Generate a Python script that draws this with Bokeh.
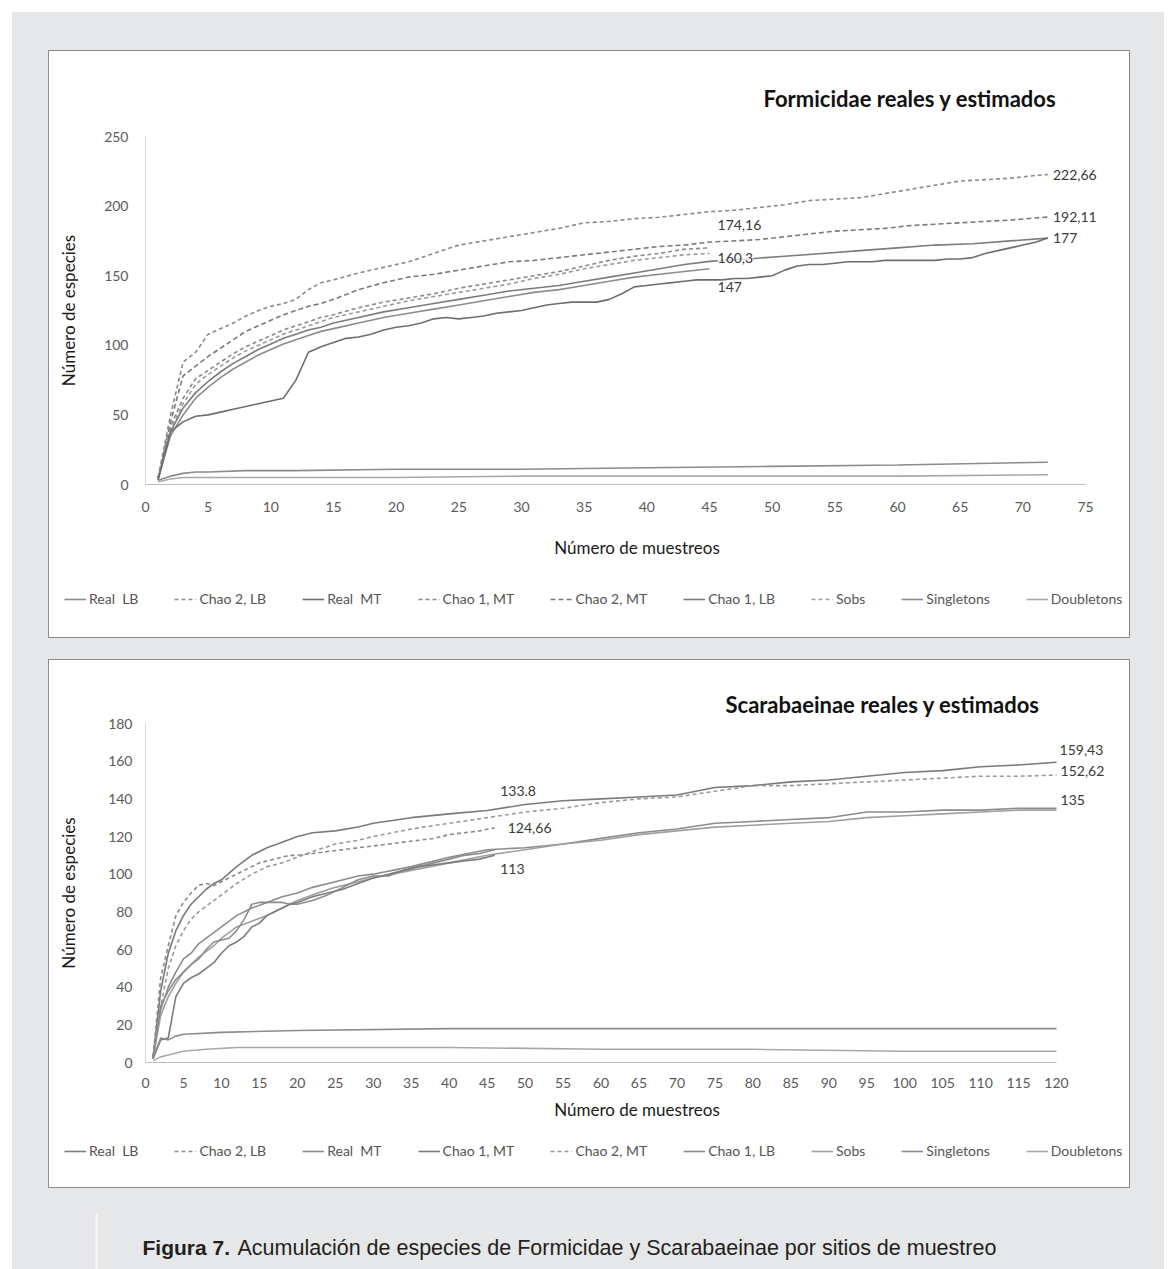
from bokeh.plotting import figure
from bokeh.models import Range1d, FixedTicker, Legend, LegendItem, Label, Spacer, BoxAnnotation
from bokeh.layouts import column, row
from bokeh.embed import file_html
from bokeh.resources import INLINE

# ---------------- data: Formicidae ----------------
f_x_mt = [1, 2, 3, 4, 5, 6, 7, 8, 9, 10, 11, 12, 13, 14, 15,
          17, 19, 21, 23, 25, 27, 29, 31, 33, 35, 37, 39, 41, 43, 45,
          47, 49, 51, 53, 55, 57, 59, 61, 63, 65, 67, 69, 71, 72]
f_chao1_mt = [5, 50, 88, 95, 108, 112, 116, 121, 125, 128, 130, 133, 140, 145, 147,
              152, 156, 160, 166, 172, 175, 178, 181, 184, 188, 189, 191, 192, 194, 196,
              197, 199, 201, 204, 205, 206, 209, 212, 215, 218, 219, 220, 222, 222.66]
f_chao2_mt = [4, 45, 78, 85, 92, 98, 104, 110, 114, 118, 122, 125, 128, 130, 133,
              140, 145, 149, 151, 154, 157, 160, 161, 163, 165, 167, 169, 171, 172, 174.16,
              175, 176, 178, 180, 182, 183, 184, 186, 187, 188, 189, 190, 191.5, 192.11]

f_x_lb = [1, 2, 3, 4, 5, 6, 7, 8, 9, 10, 11, 12, 13, 14, 15,
          17, 19, 21, 23, 25, 27, 29, 31, 33, 35, 37, 39, 41, 43, 45]
f_chao2_lb = [4, 42, 62, 76, 82, 88, 94, 99, 103, 107, 111, 114, 117, 120, 122,
              127, 131, 134, 137, 141, 144, 147, 150, 153, 157, 161, 164, 166, 169, 170]
f_sobs = [4, 40, 58, 72, 79, 85, 91, 96, 100, 104, 108, 111, 114, 117, 120,
          124, 128, 132, 135, 138, 141, 144, 148, 151, 155, 158, 161, 163, 165, 166]
f_real_lb = [4, 35, 50, 62, 70, 77, 83, 88, 93, 97, 101, 104, 107, 110, 112,
             116, 120, 123, 126, 129, 132, 135, 138, 140, 143, 146, 149, 151, 153, 155]

f_x_c1lb = [1, 2, 3, 4, 5, 6, 7, 8, 9, 10, 11, 12, 13, 14, 15,
            17, 19, 21, 23, 25, 27, 29, 31, 33, 35, 37, 39, 41, 43, 45,
            48, 51, 54, 57, 60, 63, 66, 69, 72]
f_chao1_lb = [4, 38, 55, 66, 74, 81, 87, 92, 97, 101, 105, 108, 111, 113, 116,
              120, 124, 127, 130, 133, 136, 139, 141, 143, 146, 149, 152, 155, 158, 160.3,
              162, 164, 166, 168, 170, 172, 173, 175, 177]

f_x_real_mt = list(range(1, 73))
f_real_mt = [3, 38, 45, 49, 50, 52, 54, 56, 58, 60,
             62, 75, 95, 99, 102, 105, 106, 108, 111, 113,
             114, 116, 119, 120, 119, 120, 121, 123, 124, 125,
             127, 129, 130, 131, 131, 131, 133, 137, 142, 143,
             144, 145, 146, 147, 147, 147, 148, 148, 149, 150,
             154, 157, 158, 158, 159, 160, 160, 160, 161, 161,
             161, 161, 161, 162, 162, 163, 166, 168, 170, 172,
             174, 177]

f_x_single = [1, 2, 3, 4, 5, 8, 12, 20, 30, 40, 50, 60, 72]
f_single = [3, 6, 8, 9, 9, 10, 10, 11, 11, 12, 13, 14, 16]
f_x_double = [1, 2, 3, 5, 10, 20, 30, 40, 50, 60, 72]
f_double = [2, 4, 5, 5, 5, 5, 6, 6, 6, 6, 7]

f_xticks = [0, 5, 10, 15, 20, 25, 30, 35, 40, 45, 50, 55, 60, 65, 70, 75]
f_yticks = [0, 50, 100, 150, 200, 250]
f_lab_x = [72, 72, 72, 45, 45, 45]
f_lab_y = [222.66, 192.11, 177, 174.16, 160.3, 147]
f_lab_text = ["222,66", "192,11", "177", "174,16", "160,3", "147"]

# ---------------- data: Scarabaeinae ----------------
s_x_mt = [1, 2, 3, 4, 5, 6, 7, 8, 9, 10,
          12, 14, 16, 18, 20, 22, 25, 28, 30, 35, 40, 45, 50, 55, 60, 65, 70,
          75, 80, 85, 90, 95, 100, 105, 110, 115, 120]
s_chao1_mt = [3, 38, 58, 70, 78, 84, 88, 92, 95, 97,
              104, 110, 114, 117, 120, 122, 123, 125, 127, 130, 132, 133.8, 137, 139, 140, 141, 142,
              146, 147, 149, 150, 152, 154, 155, 157, 158, 159.43]
s_chao2_mt = [2, 30, 50, 62, 70, 76, 80, 83, 86, 89,
              95, 100, 104, 106, 109, 112, 116, 118, 120, 124, 127, 130, 133, 135, 138, 140, 141,
              144, 147, 147, 148, 149, 150, 151, 152, 152, 152.62]
s_real_mt = [2, 28, 40, 48, 55, 58, 63, 66, 69, 72,
             78, 82, 85, 88, 90, 93, 96, 99, 100, 104, 109, 113, 114, 116, 119, 122, 124,
             127, 128, 129, 130, 133, 133, 134, 134, 135, 135]
s_sobs = [2, 25, 35, 42, 48, 52, 56, 59, 62, 66,
          72, 75, 78, 82, 86, 89, 93, 96, 98, 102, 106, 110, 113, 116, 118, 121, 123,
          125, 126, 127, 128, 130, 131, 132, 133, 134, 134]

s_x_lb = [1, 2, 3, 4, 5, 6, 7, 8, 9, 10, 11, 12, 13, 14, 15, 16, 17, 18, 19, 20,
          22, 24, 26, 28, 30, 32, 34, 36, 38, 40, 42, 44, 46]
s_chao2_lb = [3, 45, 62, 78, 85, 90, 94, 95, 94, 96, 98, 100, 102, 104, 106, 107, 108, 109, 110, 110,
              111, 112, 113, 114, 115, 116, 117, 118, 119, 121, 122, 123, 124.66]
s_chao1_lb = [3, 30, 38, 44, 48, 52, 55, 60, 64, 65, 66, 70, 76, 84, 85, 85, 85, 85, 84, 84,
              86, 89, 93, 97, 99, 99, 102, 104, 106, 108, 110, 111, 113]
s_real_lb = [2, 12, 13, 35, 42, 45, 47, 50, 53, 58, 62, 64, 67, 72, 74, 78, 80, 82, 84, 85,
             88, 90, 92, 95, 98, 100, 102, 104, 105, 106, 107, 108, 110]

s_x_single = [1, 2, 3, 4, 5, 10, 20, 40, 60, 80, 100, 120]
s_single = [2, 13, 12, 14, 15, 16, 17, 18, 18, 18, 18, 18]
s_x_double = [1, 2, 3, 5, 8, 12, 20, 40, 60, 80, 100, 120]
s_double = [1, 3, 4, 6, 7, 8, 8, 8, 7, 7, 6, 6]

s_xticks = [0, 5, 10, 15, 20, 25, 30, 35, 40, 45, 50, 55, 60, 65, 70, 75, 80, 85, 90,
            95, 100, 105, 110, 115, 120]
s_yticks = [0, 20, 40, 60, 80, 100, 120, 140, 160, 180]
s_lab_x = [120, 120, 120, 45, 46, 45]
s_lab_y = [159.43, 152.62, 135, 133.8, 124.66, 113]
s_lab_text = ["159,43", "152,62", "135", "133.8", "124,66", "113"]

legend_names = ["Real  LB", "Chao 2, LB", "Real  MT", "Chao 1, MT", "Chao 2, MT",
                "Chao 1, LB", "Sobs", "Singletons", "Doubletons"]

# ---------------- styles ----------------
GREY_BG = "#e6e7e8"
FONT = "Lato"
f_style = {
    "Real  LB": ("#8c8c8c", "solid"),
    "Chao 2, LB": ("#8a8a8a", "4 3"),
    "Real  MT": ("#6e6e6e", "solid"),
    "Chao 1, MT": ("#8a8a8a", "4 3"),
    "Chao 2, MT": ("#7a7a7a", "5 3"),
    "Chao 1, LB": ("#7c7c7c", "solid"),
    "Sobs": ("#9a9a9a", "4 3"),
    "Singletons": ("#8c8c8c", "solid"),
    "Doubletons": ("#a8a8a8", "solid"),
}
s_style = {
    "Real  LB": ("#7c7c7c", "solid"),
    "Chao 2, LB": ("#8a8a8a", "4 3"),
    "Real  MT": ("#8c8c8c", "solid"),
    "Chao 1, MT": ("#7a7a7a", "solid"),
    "Chao 2, MT": ("#9a9a9a", "4 3"),
    "Chao 1, LB": ("#8c8c8c", "solid"),
    "Sobs": ("#a0a0a0", "solid"),
    "Singletons": ("#8c8c8c", "solid"),
    "Doubletons": ("#a8a8a8", "solid"),
}
WHITE = {"background-color": "white"}


def make_panel(series, style, xr, xbounds, yr, xticks, yticks, width, height, borders,
               title, title_offset, title_standoff, labs, lab_offsets,
               xtick_standoff, ytick_standoff, xlab_standoff, ylab_standoff,
               leg_height, leg_loc):
    p = figure(width=width, height=height, x_range=Range1d(*xr), y_range=Range1d(*yr),
               toolbar_location=None, output_backend="svg",
               min_border_left=borders[0], min_border_right=borders[1],
               min_border_top=borders[2], min_border_bottom=borders[3],
               background_fill_color="white", border_fill_color="white",
               styles=WHITE)
    p.outline_line_color = None
    p.title.text = title
    p.title.align = "left"
    p.title.offset = title_offset
    p.title.standoff = title_standoff
    p.title.text_font = FONT
    p.title.text_font_size = "22px"
    p.title.text_font_style = "bold"
    p.title.text_color = "#111111"
    p.xgrid.visible = False
    p.ygrid.visible = False
    for ax in (p.xaxis[0], p.yaxis[0]):
        ax.major_tick_line_color = None
        ax.minor_tick_line_color = None
        ax.major_label_text_font = FONT
        ax.major_label_text_font_size = "14px"
        ax.major_label_text_color = "#5a5a5a"
        ax.axis_label_text_font = FONT
        ax.axis_label_text_font_size = "17px"
        ax.axis_label_text_font_style = "normal"
        ax.axis_label_text_color = "#1a1a1a"
    p.xaxis.axis_line_color = "#bdbdbd"
    p.yaxis.axis_line_color = "#d6d6d6"
    p.xaxis.bounds = xbounds
    p.yaxis.bounds = yr
    p.xaxis.ticker = FixedTicker(ticks=xticks)
    p.yaxis.ticker = FixedTicker(ticks=yticks)
    p.xaxis.major_label_standoff = xtick_standoff
    p.yaxis.major_label_standoff = ytick_standoff
    p.xaxis.axis_label = "Número de muestreos"
    p.yaxis.axis_label = "Número de especies"
    p.xaxis.axis_label_standoff = xlab_standoff
    p.yaxis.axis_label_standoff = ylab_standoff

    for name, (xs, ys) in series.items():
        col, dash = style[name]
        p.line(xs, ys, line_color=col, line_width=1.6, line_dash=dash)

    for (lx, ly, lt), (dx, dy) in zip(labs, lab_offsets):
        p.add_layout(Label(x=lx, y=ly, text=lt, x_offset=dx, y_offset=dy,
                           text_align="left", text_baseline="middle",
                           text_font=FONT, text_font_size="14px", text_color="#3a3a3a",
                           background_fill_color="white", background_fill_alpha=0.75))

    # legend strip: its own small figure; the sample renderers reuse the series data,
    # kept outside the visible range so only the legend glyphs show
    lf = figure(width=width, height=leg_height, x_range=Range1d(-20, -10), y_range=Range1d(-20, -10),
                toolbar_location=None, output_backend="svg", min_border=0,
                background_fill_color="white", border_fill_color="white",
                styles=WHITE)
    lf.frame_align = False
    lf.outline_line_color = None
    lf.axis.visible = False
    lf.grid.visible = False
    items = []
    for n in legend_names:
        col, dash = style[n]
        xs, ys = series[n]
        r = lf.line(xs, ys, line_color=col, line_width=1.6, line_dash=dash)
        items.append(LegendItem(label=n, renderers=[r]))
    leg = Legend(items=items, orientation="horizontal", location=leg_loc,
                 spacing=36, glyph_width=22, glyph_height=12, label_standoff=3,
                 label_text_font=FONT, label_text_font_size="14px",
                 label_text_color="#555555", border_line_color=None,
                 background_fill_alpha=0, padding=0, margin=0)
    lf.add_layout(leg)
    return column(p, lf, styles={"background-color": "white",
                                 "box-shadow": "0 0 0 1px #8c8c8c"})


f_series = {
    "Chao 1, MT": (f_x_mt, f_chao1_mt),
    "Chao 2, MT": (f_x_mt, f_chao2_mt),
    "Chao 2, LB": (f_x_lb, f_chao2_lb),
    "Sobs": (f_x_lb, f_sobs),
    "Real  LB": (f_x_lb, f_real_lb),
    "Chao 1, LB": (f_x_c1lb, f_chao1_lb),
    "Real  MT": (f_x_real_mt, f_real_mt),
    "Singletons": (f_x_single, f_single),
    "Doubletons": (f_x_double, f_double),
}
s_series = {
    "Chao 1, MT": (s_x_mt, s_chao1_mt),
    "Chao 2, MT": (s_x_mt, s_chao2_mt),
    "Real  MT": (s_x_mt, s_real_mt),
    "Sobs": (s_x_mt, s_sobs),
    "Chao 2, LB": (s_x_lb, s_chao2_lb),
    "Chao 1, LB": (s_x_lb, s_chao1_lb),
    "Real  LB": (s_x_lb, s_real_lb),
    "Singletons": (s_x_single, s_single),
    "Doubletons": (s_x_double, s_double),
}

# frame spans x 145..1128 on the page; 0..75 occupies 145..1085 (top), 0..120 occupies 145..1056 (bottom)
panel1 = make_panel(f_series, f_style, (0, 78.43), (0, 75), (0, 250), f_xticks, f_yticks,
                    1080, 536, (96, 1, 85, 103),
                    "Formicidae reales y estimados", 618, 49,
                    list(zip(f_lab_x, f_lab_y, f_lab_text)),
                    [(5, 0), (5, 0), (5, 0), (8, 17), (8, 3), (8, -7)],
                    11, 11, 22, 22, 50, (15, 30))
panel2 = make_panel(s_series, s_style, (0, 129.48), (0, 120), (0, 180), s_xticks, s_yticks,
                    1080, 477, (96, 1, 63, 75),
                    "Scarabaeinae reales y estimados", 580, 11,
                    list(zip(s_lab_x, s_lab_y, s_lab_text)),
                    [(3, 12), (4, 4), (4, 8), (13, 20), (13, 0), (13, -19)],
                    9, 7, 8, 26, 50, (15, 28))

# caption strip (transparent, so the grey page and the panel border above show through)
cap = figure(width=1152, height=82, x_range=Range1d(0, 1152), y_range=Range1d(0, 82),
             toolbar_location=None, output_backend="svg", min_border=0,
             background_fill_alpha=0, border_fill_alpha=0)
cap.outline_line_color = None
cap.axis.visible = False
cap.grid.visible = False
cap.add_layout(BoxAnnotation(left=83, right=85, bottom=0, top=56,
                             fill_color="#f8f8f8", fill_alpha=1, line_color=None))
cap.add_layout(Label(x=130, y=22, text="Figura 7.", text_font="Liberation Sans",
                     text_font_size="21px", text_font_style="bold", text_color="#231f20",
                     text_baseline="alphabetic"))
cap.add_layout(Label(x=225, y=22,
                     text="Acumulación de especies de Formicidae y Scarabaeinae por sitios de muestreo",
                     text_font="Liberation Sans", text_font_size="21.5px", text_color="#231f20",
                     text_baseline="alphabetic"))

inner = column(
    Spacer(height=39, width=1152),
    row(Spacer(width=37, height=586), panel1),
    Spacer(height=23, width=1152),
    row(Spacer(width=37, height=527), panel2),
    cap,
    styles={"background-color": GREY_BG},
)
layout = column(Spacer(height=12, width=1164), row(Spacer(width=12, height=1257), inner))

open("out.html", "w").write(file_html(layout, INLINE))
